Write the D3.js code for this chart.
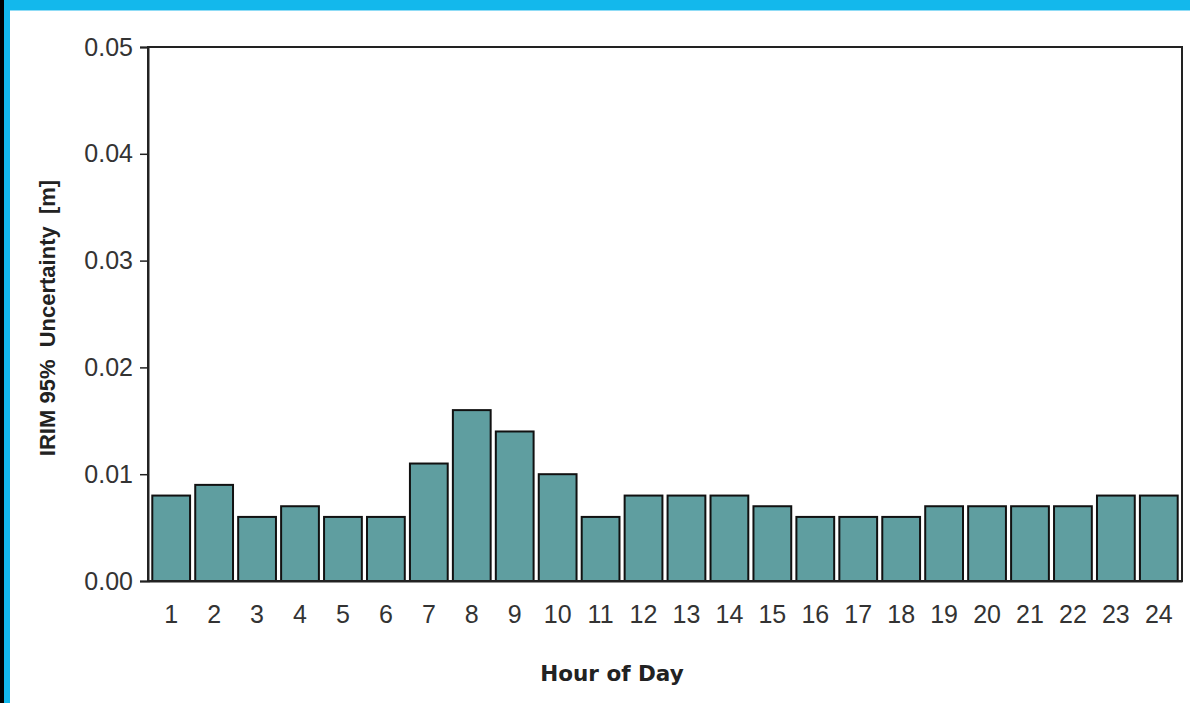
<!DOCTYPE html>
<html>
<head>
<meta charset="utf-8">
<script src="https://cdn.jsdelivr.net/npm/d3@7"></script>
<style>
  body { margin: 0; background: #fff; }
  #chart text { font-family: "Liberation Sans", Arial, sans-serif; fill: #222; }
</style>
</head>
<body>
<div id="chart"></div>
<script>
// hourly IRIM uncertainty
const hours = ["1", "2", "3", "4", "5", "6", "7", "8", "9", "10", "11", "12",
  "13", "14", "15", "16", "17", "18", "19", "20", "21", "22", "23", "24"]
const uncertainty = [0.008, 0.009, 0.006, 0.007, 0.006, 0.006, 0.011, 0.016, 0.014, 0.010, 0.006, 0.008,
  0.008, 0.008, 0.007, 0.006, 0.006, 0.006, 0.007, 0.007, 0.007, 0.007, 0.008, 0.008]
const yTicks = [0, 0.01, 0.02, 0.03, 0.04, 0.05]
const xTitle = "Hour of Day"
const yTitle = "IRIM 95%  Uncertainty  [m]"

class HourChart {

  constructor(width, height) {
    this.width = width
    this.height = height
    this.margin = { top: 47, right: 8, bottom: 122, left: 148 }
    this.svg = d3.select("#chart")
      .append("svg")
      .attr("width", width)
      .attr("height", height)
  }

  init() {
    this.drawFrame()
    this.setScales()
    this.drawBars()
    this.drawAxes()
    this.drawTitles()
  }

  // blue window border at top and left
  drawFrame() {
    this.svg.append("rect").attr("x", 0).attr("y", 0).attr("width", this.width).attr("height", 10).attr("fill", "#13b8ec")
    this.svg.append("rect").attr("x", 0).attr("y", 10).attr("width", this.width).attr("height", 1).attr("fill", "#8fdcf6")
    this.svg.append("rect").attr("x", 0).attr("y", 0).attr("width", 10).attr("height", this.height).attr("fill", "#13b8ec")
    this.svg.append("rect").attr("x", 0).attr("y", 0).attr("width", 4).attr("height", this.height).attr("fill", "#000")
  }

  setScales() {
    const m = this.margin
    this.innerW = this.width - m.left - m.right
    this.innerH = this.height - m.top - m.bottom

    this.x = d3.scaleBand()
      .domain(hours)
      .range([0, this.innerW])
      .paddingInner(0.12)
      .paddingOuter(0.1)

    this.y = d3.scaleLinear()
      .domain([0, 0.05])
      .range([this.innerH, 0])

    this.g = this.svg.append("g")
      .attr("transform", `translate(${m.left},${m.top})`)
  }

  drawBars() {
    this.g.append("g")
      .selectAll("rect")
      .data(uncertainty)
      .join("rect")
      .attr("x", (d, i) => this.x(hours[i]))
      .attr("y", d => this.y(d))
      .attr("width", this.x.bandwidth())
      .attr("height", d => this.y(0) - this.y(d))
      .attr("fill", "#5f9ea0")
      .attr("stroke", "#111")
      .attr("stroke-width", 2)
  }

  drawAxes() {
    // plot box
    this.g.append("rect")
      .attr("width", this.innerW)
      .attr("height", this.innerH)
      .attr("fill", "none")
      .attr("stroke", "#222")
      .attr("stroke-width", 2)

    const yAxis = this.g.append("g")
      .call(d3.axisLeft(this.y).tickValues(yTicks).tickFormat(d3.format(".2f")).tickSize(8).tickPadding(7))
    yAxis.select(".domain").attr("stroke", "#222").attr("stroke-width", 2)
    yAxis.selectAll(".tick line").attr("stroke", "#222").attr("stroke-width", 1.5)
    yAxis.selectAll("text").style("font-size", "25px").style("fill", "#333")

    const xAxis = this.g.append("g")
      .attr("transform", `translate(0,${this.innerH})`)
      .call(d3.axisBottom(this.x).tickSize(0).tickPadding(24))
    xAxis.select(".domain").attr("stroke", "#222").attr("stroke-width", 2)
    xAxis.selectAll("text").style("font-size", "25px").style("fill", "#333")
  }

  drawTitles() {
    this.svg.append("text")
      .attr("x", 612)
      .attr("y", 681)
      .attr("text-anchor", "middle")
      .style("font-family", "'DejaVu Sans', sans-serif")
      .style("font-size", "21.5px")
      .style("font-weight", "bold")
      .text(xTitle)

    this.svg.append("text")
      .attr("transform", "translate(55,318) rotate(-90)")
      .attr("text-anchor", "middle")
      .style("font-size", "22px")
      .style("font-weight", "bold")
      .style("white-space", "pre")
      .text(yTitle)
  }
}

const chart = new HourChart(1190, 703)
chart.init()
</script>
</body>
</html>
